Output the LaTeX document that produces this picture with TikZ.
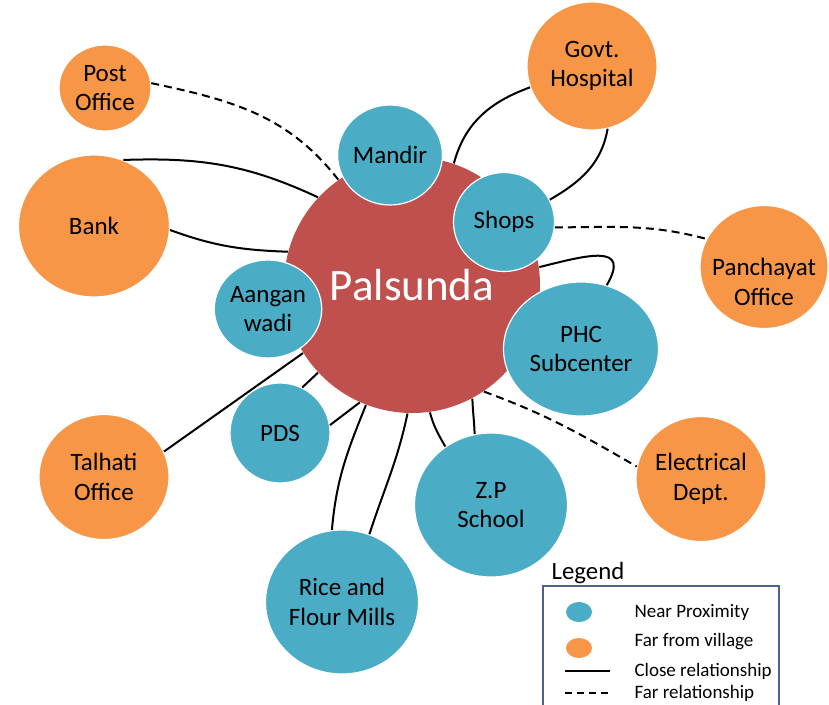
\documentclass[tikz,border=0pt]{standalone}
\usepackage{fontspec}
\setmainfont{Carlito}
\usetikzlibrary{shapes.geometric}

\definecolor{villred}{RGB}{192,80,77}
\definecolor{nearblue}{RGB}{75,172,198}
\definecolor{farorange}{RGB}{247,150,70}
\definecolor{legendframe}{RGB}{79,98,140}

\begin{document}
\begin{tikzpicture}[x=1pt, y=-1pt,
    place/.style={ellipse, draw=white, line width=1.2pt, inner sep=0pt,
        align=center, font=\fontsize{25}{29.5}\selectfont},
    nearplace/.style={place, fill=nearblue},
    farplace/.style={place, fill=farorange},
    closerel/.style={line width=2pt},
    farrel/.style={line width=2pt, dash pattern=on 8pt off 5pt},
    keytext/.style={anchor=west, font=\fontsize{19}{23}\selectfont}
    ]
    \useasboundingbox (0,0) rectangle (829,704);

    % village in the middle
    \node[place, fill=villred, draw=none, minimum size=256pt, text=white,
        font=\fontsize{45}{54}\selectfont] (pals) at (412,285) {Palsunda};

    % near proximity
    \node[nearplace, minimum width=100pt, minimum height=100pt] (mandir) at (390,155) {Mandir};
    \node[nearplace, minimum width=101pt, minimum height=99pt] (shops) at (504,222) {Shops};
    \node[nearplace, minimum width=101pt, minimum height=98pt] (aang) at (268,309) {Aangan\\ wadi};
    \node[nearplace, minimum width=155pt, minimum height=134pt] (phc) at (581,349) {PHC\\ Subcenter};
    \node[nearplace, minimum width=100pt, minimum height=100pt] (pds) at (280,433) {PDS};
    \node[nearplace, minimum width=153pt, minimum height=144pt] (zps) at (491,505) {Z.P\\ School};
    \node[nearplace, minimum width=153pt, minimum height=144pt] (rice) at (342,602) {Rice and\\ Flour Mills};

    % far from village
    \node[farplace, minimum width=92pt, minimum height=86pt] (post) at (105,88) {Post\\ Office};
    \node[farplace, minimum width=151pt, minimum height=142pt] (bank) at (94,226) {Bank};
    \node[farplace, minimum width=130pt, minimum height=125pt] (talh) at (104,477) {Talhati\\ Office};
    \node[farplace, minimum width=130pt, minimum height=128pt] (govt) at (592,66) {Govt.\\ Hospital};
    \node[farplace, minimum width=128pt, minimum height=123pt,
        label={[align=center, font=\fontsize{25}{29.5}\selectfont, yshift=-15pt]center:Panchayat\\ Office}]
        (panch) at (764,267) {};
    \node[farplace, minimum width=130pt, minimum height=125pt] (elec) at (701,479) {Electrical\\ Dept.};

    % relationships
    \draw[farrel] (post.6) to[out=-12, in=128] (pals.125);
    \draw[closerel] (bank.66) to[out=2, in=155] (pals.137);
    \draw[closerel] (bank.357) to[out=-20, in=178] (pals.165);
    \draw[closerel] (govt.199) to[out=200, in=75] (pals.71);
    \draw[closerel] (govt.284) to[out=-100, in=30] (shops.26);
    \draw[farrel] (shops.354) to[out=0, in=165] (panch.154);
    \draw[closerel] (pals.8) to[out=14, in=60, looseness=1.8] (phc.68);
    \draw[closerel] (talh.23) -- (pals.212);
    \draw[closerel] (pds.64) -- (pals.223);
    \draw[closerel] (pds.9) -- (pals.246);
    \draw[closerel] (rice.98) to[out=85, in=-112] (pals.249);
    \draw[closerel] (rice.68) to[out=72, in=-102] (pals.268);
    \draw[closerel] (pals.278) to[out=-75, in=120] (zps.128);
    \draw[closerel] (pals.298) to[out=-88, in=92] (zps.103);
    \draw[farrel] (pals.304) to[out=-20, in=150] (elec.169);

    % legend
    \node[font=\fontsize{24.8}{30}\selectfont] (legtitle) at (588,573) {Legend};
    \draw[legendframe, line width=1.5pt] (543,712) |- (779,586) -- (779,712);
    \node[ellipse, fill=nearblue, minimum width=26pt, minimum height=20pt, inner sep=0pt] (keynear) at (579,612) {};
    \node[ellipse, fill=farorange, minimum width=26pt, minimum height=20pt, inner sep=0pt] (keyfar) at (579,648) {};
    \coordinate (keyclosea) at (565,671);
    \coordinate (keycloseb) at (610,671);
    \coordinate (keyfara) at (565,693);
    \coordinate (keyfarb) at (610,693);
    \draw[line width=2pt] (keyclosea) -- (keycloseb);
    \draw[line width=2pt, dash pattern=on 7pt off 5pt] (keyfara) -- (keyfarb);
    \node[keytext] (txtnear) at (631,612) {Near Proximity};
    \node[keytext] (txtfar) at (631,642) {Far from village};
    \node[keytext] (txtclose) at (631,671) {Close relationship};
    \node[keytext] (txtfarrel) at (631,693) {Far relationship};
\end{tikzpicture}
\end{document}
